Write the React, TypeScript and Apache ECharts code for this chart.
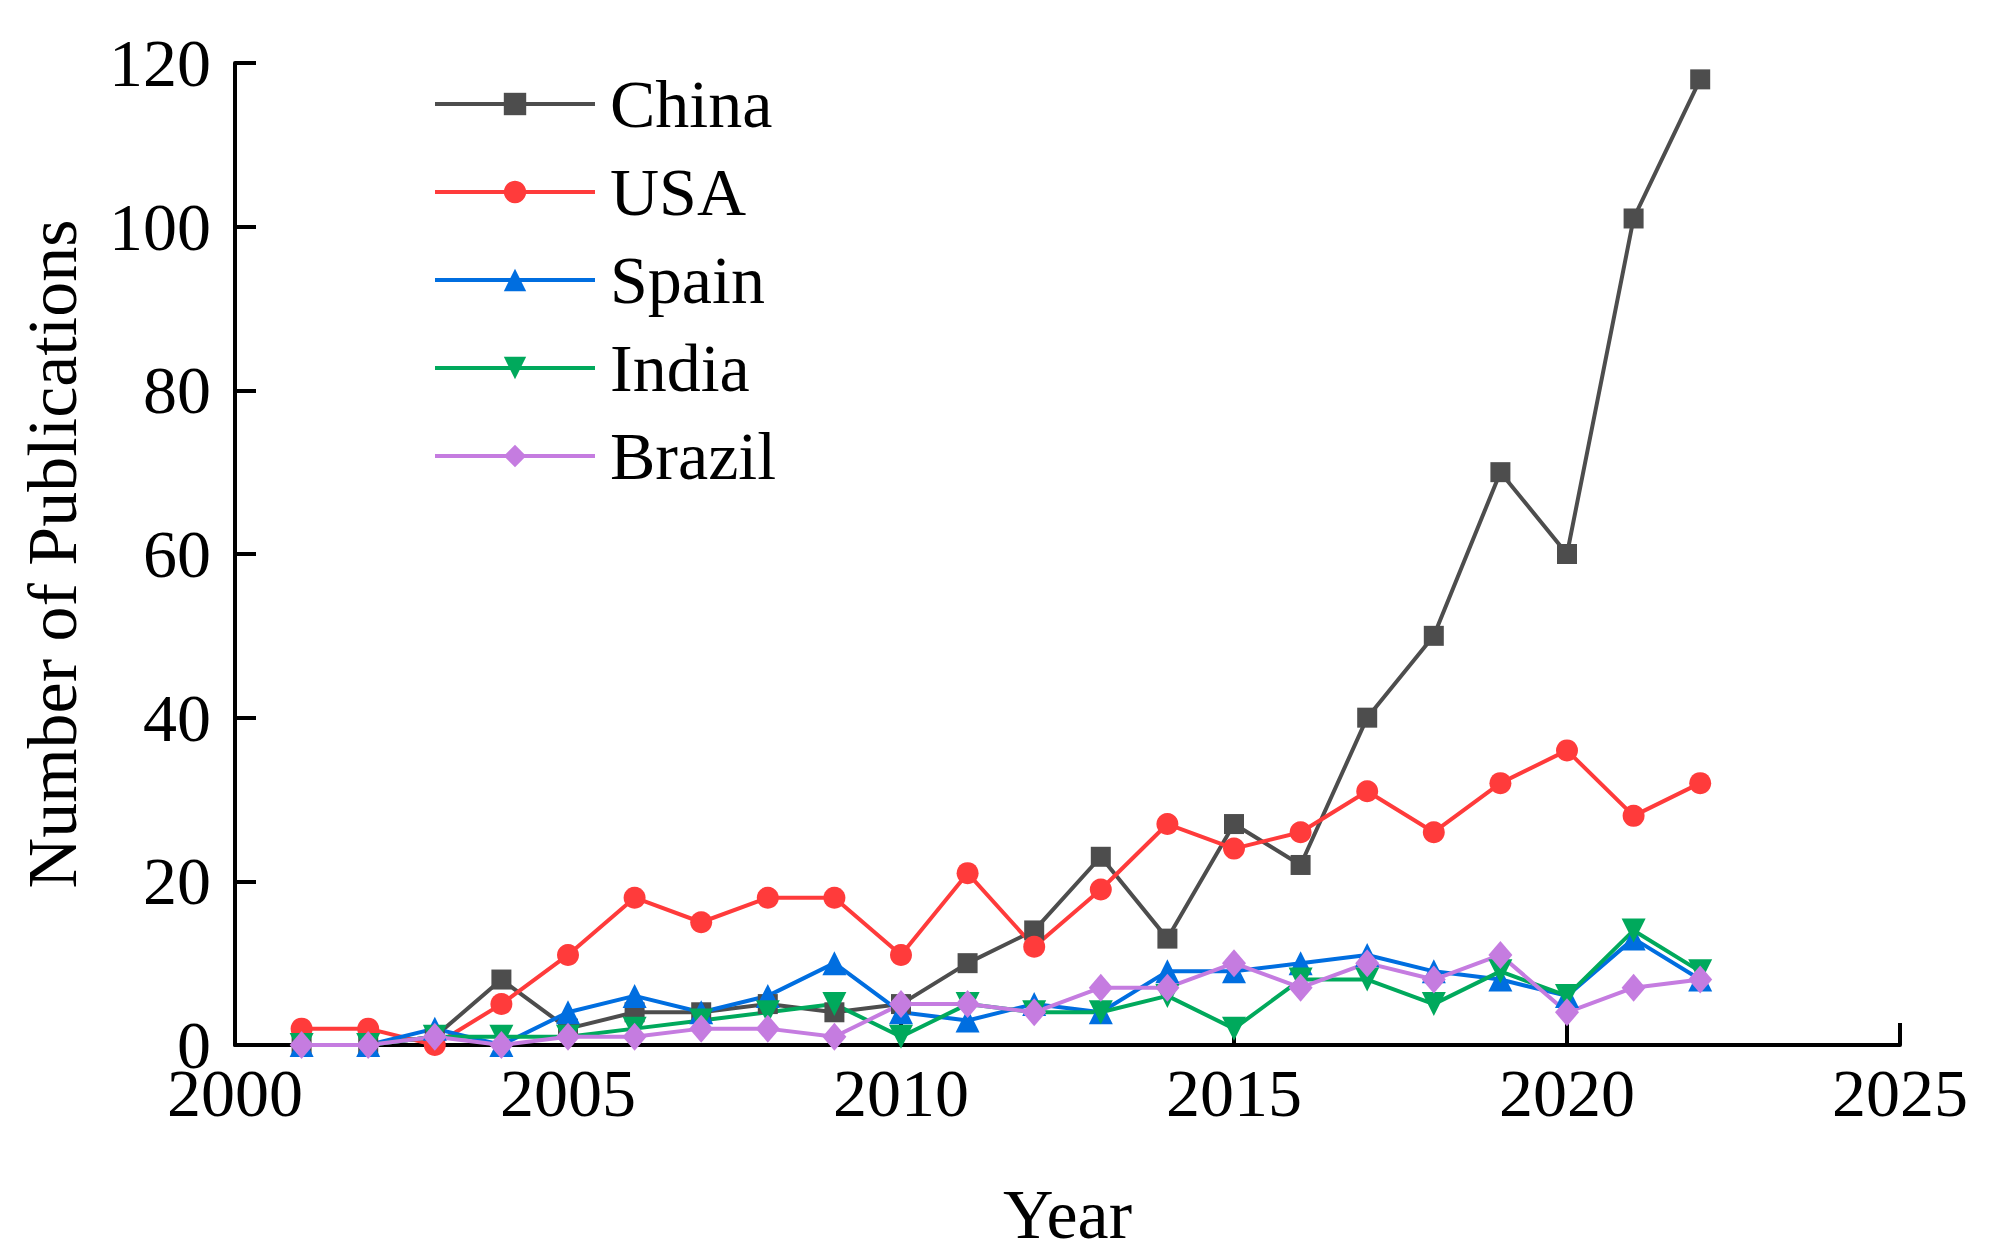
import React, { useEffect, useRef } from "react";
import * as echarts from "echarts";

const years = [2001, 2002, 2003, 2004, 2005, 2006, 2007, 2008, 2009, 2010, 2011, 2012, 2013, 2014, 2015, 2016, 2017, 2018, 2019, 2020, 2021, 2022];
const china = [0, 0, 1, 8, 2, 4, 4, 5, 4, 5, 10, 14, 23, 13, 27, 22, 40, 50, 70, 60, 101, 118];
const usa = [2, 2, 0, 5, 11, 18, 15, 18, 18, 11, 21, 12, 19, 27, 24, 26, 31, 26, 32, 36, 28, 32];
const spain = [0, 0, 2, 0, 4, 6, 4, 6, 10, 4, 3, 5, 4, 9, 9, 10, 11, 9, 8, 6, 13, 8];
const india = [0, 0, 1, 1, 1, 2, 3, 4, 5, 1, 5, 4, 4, 6, 2, 8, 8, 5, 9, 6, 14, 9];
const brazil = [0, 0, 1, 0, 1, 1, 2, 2, 1, 5, 5, 4, 7, 7, 10, 7, 10, 8, 11, 4, 7, 8];

const seriesDefs = [
  { name: "China", data: china, color: "#4d4d4d", symbol: "rect", size: 20, rotate: 0 },
  { name: "USA", data: usa, color: "#ff3b3b", symbol: "circle", size: 22, rotate: 0 },
  { name: "Spain", data: spain, color: "#006ee0", symbol: "triangle", size: 24, rotate: 0 },
  { name: "India", data: india, color: "#00a95c", symbol: "triangle", size: 24, rotate: 180 },
  { name: "Brazil", data: brazil, color: "#c57ce0", symbol: "diamond", size: [24, 28], rotate: 0 },
];

const FONT = "'Liberation Serif', 'Times New Roman', serif";

export default function App() {
  const ref = useRef<HTMLDivElement>(null);
  useEffect(() => {
    if (!ref.current) return;
    const chart = echarts.init(ref.current, undefined, { renderer: "svg" });
    chart.setOption({
      animation: false,
      backgroundColor: "#ffffff",
      textStyle: { fontFamily: FONT },
      grid: { left: 235, right: 93, top: 63, bottom: 214, containLabel: false, outerBoundsMode: "none" },
      legend: {
        orient: "vertical",
        left: 428,
        top: 65,
        itemWidth: 160,
        itemHeight: 28,
        itemGap: 20,
        lineStyle: { width: 4 },
        textStyle: { fontFamily: FONT, fontSize: 68, color: "#000", padding: [0, 0, 0, 10] },
        data: seriesDefs.map((s) => s.name),
      },
      xAxis: {
        type: "value",
        min: 2000,
        max: 2025,
        interval: 5,
        name: "Year",
        nameLocation: "middle",
        nameGap: 134,
        nameTextStyle: { fontFamily: FONT, fontSize: 70, color: "#000" },
        axisLine: { show: true, lineStyle: { color: "#000", width: 4 } },
        axisTick: { show: true, inside: true, length: 22, lineStyle: { color: "#000", width: 4 } },
        axisLabel: { fontFamily: FONT, fontSize: 68, color: "#000", margin: 14, formatter: (v: number) => String(v) },
        splitLine: { show: false },
      },
      yAxis: {
        type: "value",
        min: 0,
        max: 120,
        interval: 20,
        name: "Number of Publications",
        nameLocation: "middle",
        nameGap: 148,
        nameTextStyle: { fontFamily: FONT, fontSize: 70, color: "#000" },
        axisLine: { show: true, lineStyle: { color: "#000", width: 4 } },
        axisTick: { show: true, inside: true, length: 21, lineStyle: { color: "#000", width: 4 } },
        axisLabel: { fontFamily: FONT, fontSize: 68, color: "#000", margin: 24, formatter: (v: number) => String(v) },
        splitLine: { show: false },
      },
      series: seriesDefs.map((s) => ({
        name: s.name,
        type: "line",
        data: years.map((y, i) => [y, s.data[i]]),
        symbol: s.symbol,
        symbolSize: s.size,
        symbolRotate: s.rotate,
        showAllSymbol: true,
        lineStyle: { color: s.color, width: 4 },
        itemStyle: { color: s.color },
      })),
    });
    return () => chart.dispose();
  }, []);
  return (
    <div
      ref={ref}
      style={{ position: "fixed", left: 0, top: 0, width: 1993, height: 1259, background: "#fff" }}
    />
  );
}
